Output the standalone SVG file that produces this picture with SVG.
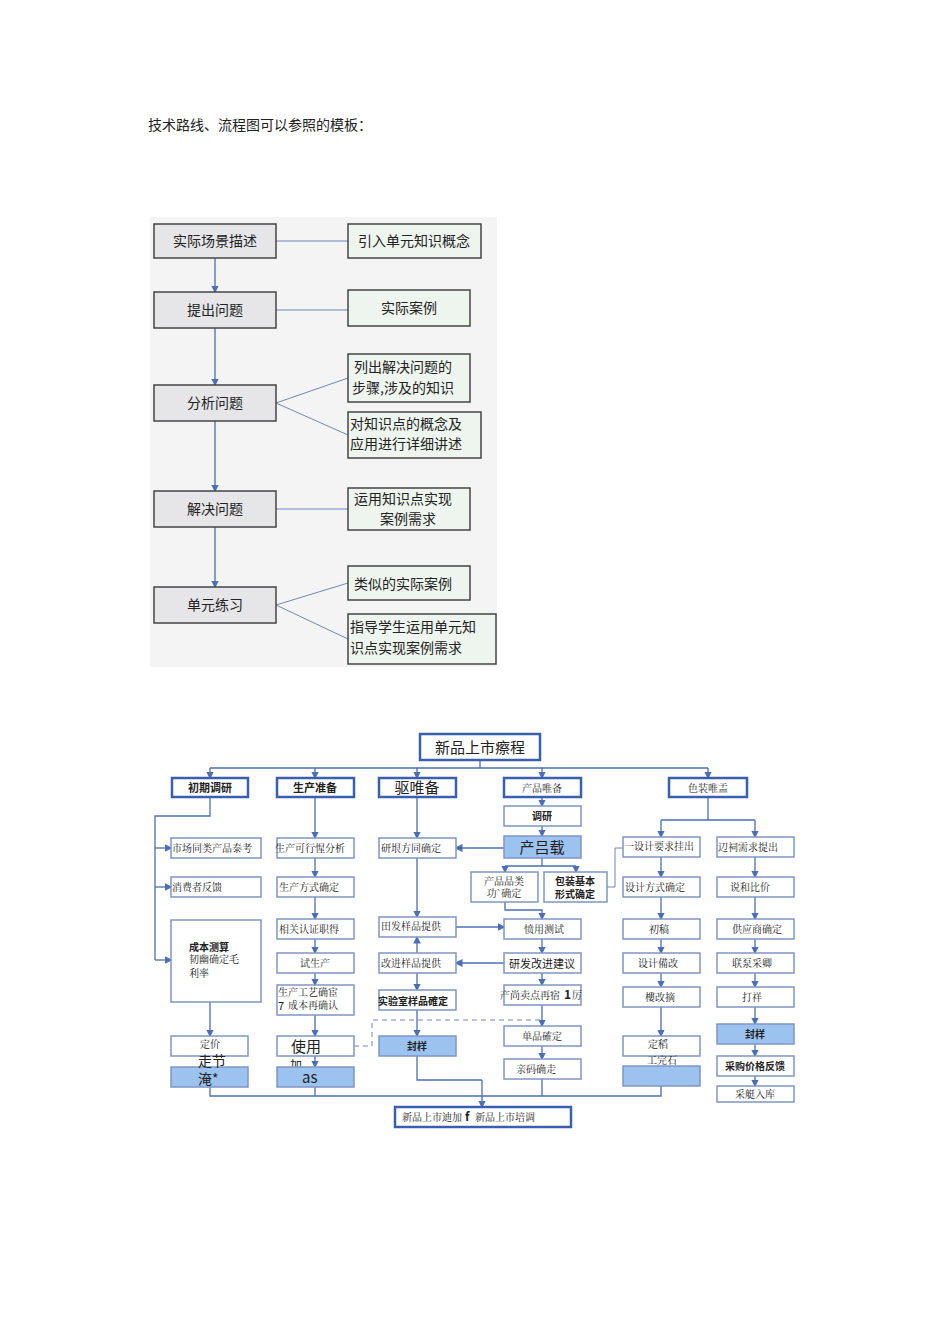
<svg xmlns="http://www.w3.org/2000/svg" width="950" height="1318" viewBox="0 0 950 1318">
<defs>
<marker id="a" viewBox="0 0 6 6" refX="5" refY="3" markerWidth="6" markerHeight="6" orient="auto"><path d="M0,0L6,3L0,6z" fill="#4a6fb8"/></marker>
<style>
text{font-family:"Noto Sans CJK SC","Liberation Sans",sans-serif;fill:#222}
.l{fill:#e6e6e9;stroke:#444;stroke-width:1.5}
.r{fill:#eef4ee;stroke:#444;stroke-width:1.5}
.t{font-size:14px}
.b{fill:#fff;stroke:#7f95c4;stroke-width:1.5}
.h{fill:#fff;stroke:#3a5fb0;stroke-width:2.5}
.f{fill:#9cc3f0;stroke:#7f95c4;stroke-width:1.5}
.s{font-size:10px;font-family:"Noto Serif CJK SC","Noto Sans CJK SC",serif}
.c{stroke:#4a6fb8;stroke-width:1.3;fill:none}
.m{stroke:#4a6fb8;stroke-width:1.3;fill:none;marker-end:url(#a)}
.g{stroke:#6f86b8;stroke-width:1;fill:none}
</style>
</defs>
<rect width="950" height="1318" fill="#fff"/>
<text x="148" y="130" font-size="14">技术路线、流程图可以参照的模板：</text>
<rect x="150" y="217" width="347" height="450" fill="#f4f4f4"/>
<g id="conn1">
<path class="m" d="M215,258V292"/><path class="m" d="M215,328V385"/><path class="m" d="M215,421V491"/><path class="m" d="M215,527V587"/>
<path class="g" d="M276,241H348M276,310H348M276,403L348,378M276,403L348,435M276,509H348M276,605L348,583M276,605L348,639"/>
</g>
<g id="n1"><rect class="l" x="154" y="224" width="122" height="34"/><text class="t" x="215" y="246" text-anchor="middle">实际场景描述</text></g>
<g id="n2"><rect class="l" x="154" y="292" width="122" height="36"/><text class="t" x="215" y="315" text-anchor="middle">提出问题</text></g>
<g id="n3"><rect class="l" x="154" y="385" width="122" height="36"/><text class="t" x="215" y="408" text-anchor="middle">分析问题</text></g>
<g id="n4"><rect class="l" x="154" y="491" width="122" height="36"/><text class="t" x="215" y="514" text-anchor="middle">解决问题</text></g>
<g id="n5"><rect class="l" x="154" y="587" width="122" height="36"/><text class="t" x="215" y="610" text-anchor="middle">单元练习</text></g>
<g id="r1"><rect class="r" x="348" y="224" width="133" height="34"/><text class="t" x="414" y="246" text-anchor="middle">引入单元知识概念</text></g>
<g id="r2"><rect class="r" x="348" y="290" width="122" height="36"/><text class="t" x="409" y="313" text-anchor="middle">实际案例</text></g>
<g id="r3"><rect class="r" x="348" y="354" width="122" height="48"/><text class="t" x="354" y="372">列出解决问题的</text><text class="t" x="352" y="393">步骤,涉及的知识</text></g>
<g id="r4"><rect class="r" x="348" y="412" width="133" height="46"/><text class="t" x="350" y="429">对知识点的概念及</text><text class="t" x="350" y="449">应用进行详细讲述</text></g>
<g id="r5"><rect class="r" x="348" y="488" width="122" height="42"/><text class="t" x="354" y="504">运用知识点实现</text><text class="t" x="380" y="524">案例需求</text></g>
<g id="r6"><rect class="r" x="348" y="566" width="122" height="34"/><text class="t" x="354" y="589">类似的实际案例</text></g>
<g id="r7"><rect class="r" x="348" y="614" width="148" height="50"/><text class="t" x="350" y="632">指导学生运用单元知</text><text class="t" x="350" y="653">识点实现案例需求</text></g>

<g id="conn2">
<path class="c" d="M480,760V768M210,768H708"/>
<path class="m" d="M210,768V778"/><path class="m" d="M315,768V778"/><path class="m" d="M417,768V778"/><path class="m" d="M542,768V778"/><path class="m" d="M708,768V778"/>
<path class="c" d="M210,797V816H155V960"/>
<path class="m" d="M155,848H171"/><path class="m" d="M155,887H171"/><path class="m" d="M155,960H171"/>
<path class="m" d="M210,1002V1036"/>
<path class="m" d="M315,797V838"/><path class="m" d="M315,858V877"/><path class="m" d="M315,897V919"/><path class="m" d="M315,939V953"/><path class="m" d="M315,973V985"/><path class="m" d="M315,1015V1036"/><path class="m" d="M315,1056V1067"/>
<path class="m" d="M417,797V838"/><path class="m" d="M417,858V917"/><path class="m" d="M417,953V937"/><path class="m" d="M417,973V990"/><path class="m" d="M417,1010V1036"/>
<path class="m" d="M542,797V806"/><path class="m" d="M542,826V836"/><path class="m" d="M504,848H456"/>
<path class="c" d="M542,858V866M505,866H576"/>
<path class="m" d="M505,866V872"/><path class="m" d="M576,866V872"/>
<path class="m" d="M505,902V910H542V919"/><path class="m" d="M542,939V953"/><path class="m" d="M542,973V985"/><path class="m" d="M542,1005V1026"/><path class="m" d="M542,1046V1059"/>
<path class="m" d="M456,927H504"/><path class="m" d="M504,963H456"/>
<path class="g" d="M607,887H615V848H623"/>
<path class="c" d="M708,797V820H661M708,820H755"/>
<path class="m" d="M661,820V837"/><path class="m" d="M755,820V837"/><path class="m" d="M661,857V877"/><path class="m" d="M661,897V919"/><path class="m" d="M661,939V953"/><path class="m" d="M661,973V987"/><path class="m" d="M661,1007V1036"/>
<path class="m" d="M755,857V877"/><path class="m" d="M755,897V919"/><path class="m" d="M755,939V953"/><path class="m" d="M755,973V987"/><path class="m" d="M755,1007V1024"/><path class="m" d="M755,1044V1056"/><path class="m" d="M755,1076V1086"/>
<path class="g" stroke-dasharray="5,4" d="M354,1046H372V1020H542"/>
<path class="c" d="M210,1087V1096H661V1086M315,1087V1096M417,1056V1080H482M542,1079V1096"/>
<path class="m" d="M482,1080V1107"/>
</g>
<g id="title"><rect class="h" x="420" y="734" width="120" height="26"/><text x="480" y="753" font-size="15" text-anchor="middle">新品上市瘵程</text></g>
<g id="h1"><rect class="h" x="172" y="778" width="76" height="19"/><text x="210" y="792" font-size="11" font-weight="bold" text-anchor="middle">初期调研</text></g>
<g id="h2"><rect class="h" x="277" y="778" width="77" height="19"/><text x="315" y="792" font-size="11" font-weight="bold" text-anchor="middle">生产准备</text></g>
<g id="h3"><rect class="h" x="379" y="778" width="77" height="19"/><text x="417" y="793" font-size="15" text-anchor="middle">驱唯备</text></g>
<g id="h4"><rect class="h" x="504" y="778" width="77" height="19"/><text x="542" y="792" class="s" text-anchor="middle">产品唯备</text></g>
<g id="h5"><rect class="h" x="669" y="778" width="78" height="19"/><text x="708" y="792" class="s" text-anchor="middle">色装唯盂</text></g>

<g id="c1">
<rect class="b" x="171" y="838" width="90" height="20"/><text class="s" x="172" y="852">市场同类产品泰考</text>
<rect class="b" x="171" y="877" width="90" height="20"/><text class="s" x="172" y="891">消费者反馈</text>
<rect class="b" x="171" y="920" width="90" height="82"/><text x="189" y="951" font-size="10" font-weight="bold">成本测算</text><text class="s" x="189" y="963">韧幽确定毛</text><text class="s" x="189" y="977">利率</text>
<rect class="b" x="171" y="1036" width="77" height="20"/><text class="s" x="210" y="1048" text-anchor="middle">定价</text>
<rect class="f" x="171" y="1067" width="77" height="20"/><text x="198" y="1066" font-size="14">走节</text><text x="198" y="1084" font-size="14">淹*</text>
</g>
<g id="c2">
<rect class="b" x="277" y="838" width="77" height="20"/><text class="s" x="275" y="852">生产可行惺分析</text>
<rect class="b" x="277" y="877" width="77" height="20"/><text class="s" x="279" y="891">生产方式确定</text>
<rect class="b" x="277" y="919" width="77" height="20"/><text class="s" x="279" y="933">相关认证职得</text>
<rect class="b" x="277" y="953" width="77" height="20"/><text class="s" x="315" y="967" text-anchor="middle">试生产</text>
<rect class="b" x="277" y="985" width="77" height="30"/><text class="s" x="278" y="996" font-size="9">生产工艺确宦</text><text x="278" y="1010" font-size="11">7</text><text class="s" x="288" y="1009" font-size="9">成本再确认</text>
<rect class="b" x="277" y="1036" width="77" height="20"/><text x="291" y="1052" font-size="15">使用</text><text x="290" y="1070" font-size="12">加</text>
<rect class="f" x="277" y="1067" width="77" height="20"/><text x="302" y="1083" font-size="15">as</text>
</g>
<g id="c3">
<rect class="b" x="379" y="838" width="77" height="20"/><text class="s" x="381" y="852">研垠方同确定</text>
<rect class="b" x="379" y="917" width="77" height="20"/><text class="s" x="381" y="930">田发样品提供</text>
<rect class="b" x="379" y="953" width="77" height="20"/><text class="s" x="381" y="967">改进样品提供</text>
<rect class="b" x="379" y="990" width="77" height="20"/><text x="378" y="1005" font-size="10" font-weight="bold">实验室样品確定</text>
<rect class="f" x="379" y="1036" width="77" height="20"/><text x="417" y="1050" font-size="10" font-weight="bold" text-anchor="middle">封样</text>
</g>
<g id="c4">
<rect class="b" x="504" y="806" width="77" height="20"/><text x="542" y="820" font-size="10" font-weight="bold" text-anchor="middle">调研</text>
<rect class="f" x="504" y="836" width="77" height="22"/><text x="542" y="853" font-size="15" text-anchor="middle">产吕载</text>
<rect class="b" x="471" y="872" width="67" height="30"/><text class="s" x="504" y="885" text-anchor="middle">产品品类</text><text class="s" x="504" y="897" text-anchor="middle">功`确定</text>
<rect class="b" x="544" y="872" width="63" height="30"/><text x="575" y="885" font-size="10" font-weight="bold" text-anchor="middle">包装基本</text><text x="575" y="898" font-size="10" font-weight="bold" text-anchor="middle">形式确定</text>
<rect class="b" x="504" y="919" width="77" height="20"/><text class="s" x="544" y="933" text-anchor="middle">愤用测试</text>
<rect class="b" x="504" y="953" width="77" height="20"/><text x="542" y="968" font-size="11" text-anchor="middle">研发改进建议</text>
<rect class="b" x="504" y="985" width="77" height="20"/><text class="s" x="500" y="999">产尚卖点再宿</text><text x="564" y="999" font-size="12" font-weight="bold">1</text><text class="s" x="572" y="999">厉</text>
<rect class="b" x="504" y="1026" width="77" height="20"/><text class="s" x="542" y="1040" text-anchor="middle">单品確定</text>
<rect class="b" x="504" y="1059" width="77" height="20"/><text class="s" x="536" y="1073" text-anchor="middle">亲码确走</text>
</g>
<g id="c5">
<rect class="b" x="623" y="837" width="77" height="20"/><text class="s" x="624" y="850">一设计要求挂出</text>
<rect class="b" x="623" y="877" width="77" height="20"/><text class="s" x="625" y="891">设计方式确定</text>
<rect class="b" x="623" y="919" width="77" height="20"/><text class="s" x="659" y="933" text-anchor="middle">初稿</text>
<rect class="b" x="623" y="953" width="77" height="20"/><text class="s" x="658" y="967" text-anchor="middle">设计備改</text>
<rect class="b" x="623" y="987" width="77" height="20"/><text class="s" x="660" y="1001" text-anchor="middle">樓改摘</text>
<rect class="b" x="623" y="1036" width="77" height="20"/><text class="s" x="648" y="1048">定稻</text>
<text class="s" x="647" y="1064">工完石</text>
<rect class="f" x="623" y="1066" width="77" height="20"/>
</g>
<g id="c6">
<rect class="b" x="717" y="837" width="77" height="20"/><text class="s" x="718" y="851">辺祠需求提出</text>
<rect class="b" x="717" y="877" width="77" height="20"/><text class="s" x="750" y="891" text-anchor="middle">说和比价</text>
<rect class="b" x="717" y="919" width="77" height="20"/><text class="s" x="757" y="933" text-anchor="middle">供应商确定</text>
<rect class="b" x="717" y="953" width="77" height="20"/><text class="s" x="752" y="967" text-anchor="middle">联泵采卿</text>
<rect class="b" x="717" y="987" width="77" height="20"/><text class="s" x="752" y="1001" text-anchor="middle">打祥</text>
<rect class="f" x="717" y="1024" width="77" height="20"/><text x="755" y="1038" font-size="10" font-weight="bold" text-anchor="middle">封样</text>
<rect class="b" x="717" y="1056" width="77" height="20"/><text x="755" y="1070" font-size="10" font-weight="bold" text-anchor="middle">采购价格反馈</text>
<rect class="b" x="717" y="1086" width="77" height="16"/><text class="s" x="755" y="1098" text-anchor="middle">采艇入库</text>
</g>
<g id="bottom"><rect class="h" x="395" y="1107" width="176" height="20"/><text class="s" x="402" y="1121">新品上市迪加</text><text x="465" y="1121" font-size="12" font-weight="bold">f</text><text class="s" x="475" y="1121">新品上市培调</text></g>
</svg>
